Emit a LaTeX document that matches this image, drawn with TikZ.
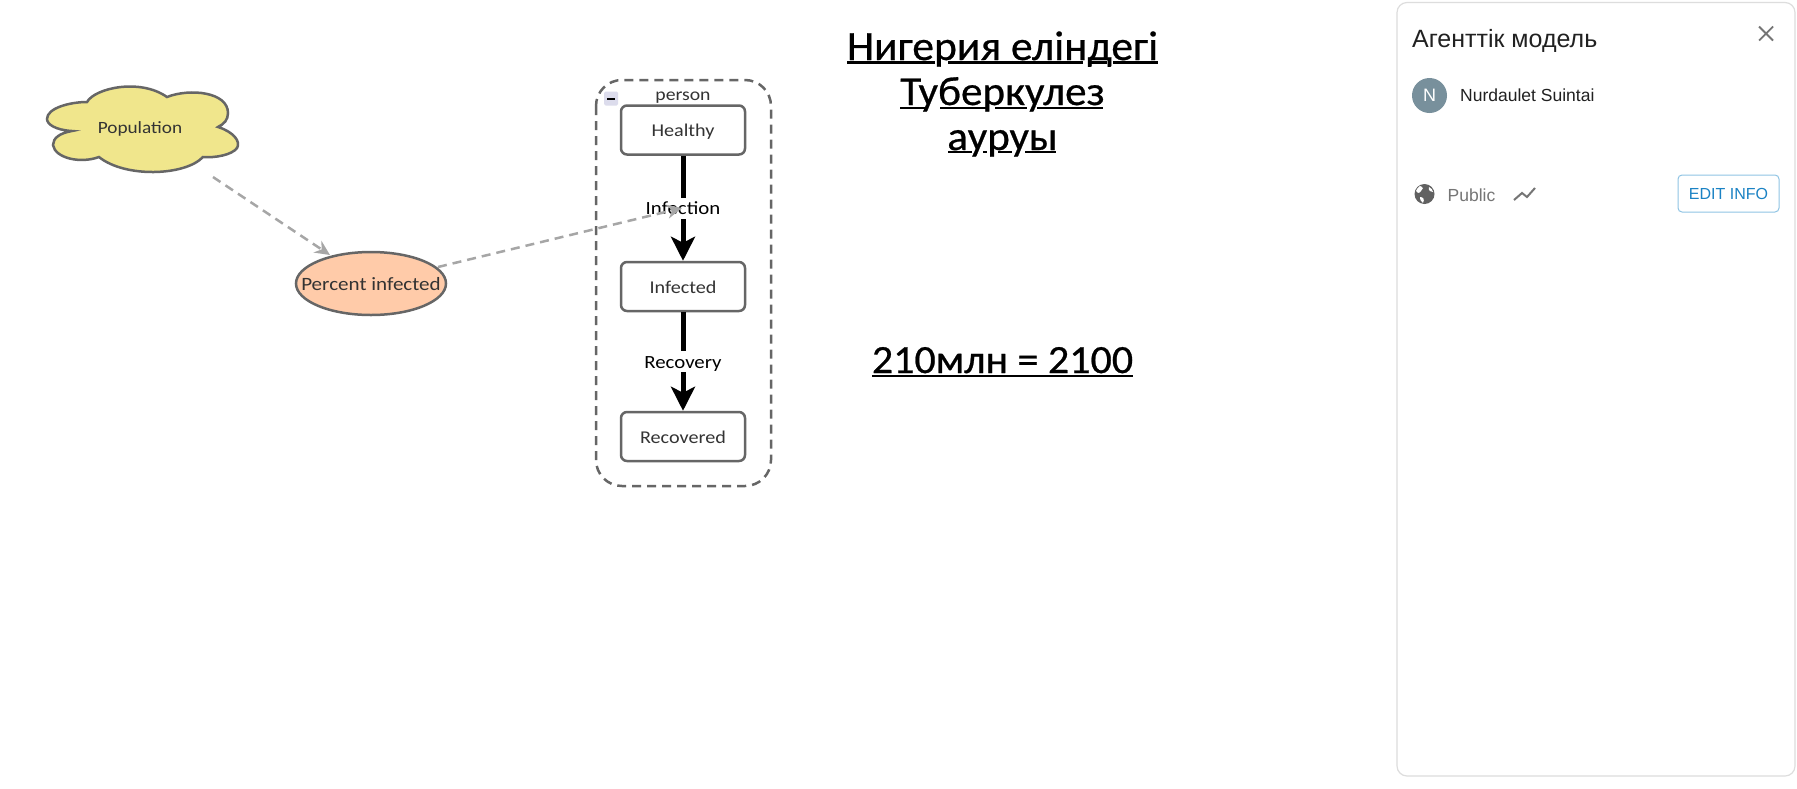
\documentclass[tikz,border=0pt]{standalone}
\usepackage{fontspec}
\usetikzlibrary{arrows.meta,shapes.geometric}
\setmainfont{Liberation Sans}
\newfontfamily\comic[FakeStretch=1.12]{Carlito}
\newfontfamily\comictitle[FakeStretch=1.05,FakeBold=0.6]{Carlito}
\newcommand{\dnshift}[1]{\raisebox{-6.5pt}[0pt][0pt]{#1}}
\definecolor{strokegray}{HTML}{666666}
\definecolor{linkgray}{HTML}{A6A6A6}
\definecolor{cloudfill}{HTML}{F0E68C}
\definecolor{ellfill}{HTML}{FFCBA9}
\definecolor{textdark}{HTML}{333333}
\definecolor{panelline}{HTML}{DDDDDD}
\definecolor{paneltext}{HTML}{212121}
\definecolor{mutedgray}{HTML}{757575}
\definecolor{avatarblue}{HTML}{78909C}
\definecolor{btnline}{HTML}{8FC4E4}
\definecolor{btntext}{HTML}{1A82C4}
\definecolor{minusbg}{HTML}{DCDCEC}
\tikzset{
  flowbox/.style={draw=strokegray,line width=2.5pt,rounded corners=6pt,fill=white,minimum width=124pt,minimum height=49pt,inner sep=0pt,font=\comic\fontsize{18}{20}\selectfont,text=textdark},
  flowlink/.style={black,line width=5pt,-{Stealth[length=24pt,width=24pt,inset=6pt]}},
  flowlabel/.style={fill=white,inner sep=1pt,minimum height=21pt,font=\comic\fontsize{18.6}{20}\selectfont,text=black},
  influence/.style={linkgray,line width=2.5pt,dash pattern=on 9pt off 6pt,-{Stealth[length=15pt,width=14pt,inset=5pt,fill=linkgray]}},
  titletext/.style={anchor=base,inner sep=0pt,text=black},
  uline/.style={black,line width=2.5pt},
  paneltxt/.style={anchor=base west,inner sep=0pt},
}
\begin{document}
\begin{tikzpicture}[x=1pt,y=-1pt]
\useasboundingbox (0,0) rectangle (1797,788);
\fill[white] (0,0) rectangle (1797,788);

% cloud
\draw[draw=strokegray,line width=2.5pt,fill=cloudfill]
  (87,102) .. controls (95,88) and (140,78) .. (167,97)
  .. controls (190,88) and (228,92) .. (228,113)
  .. controls (228,120) and (224,124) .. (218,127)
  .. controls (234,132) and (241,142) .. (237,148)
  .. controls (232,155) and (215,158) .. (203,157)
  .. controls (185,176) and (125,178) .. (99,157)
  .. controls (80,164) and (55,158) .. (53,145)
  .. controls (53,138) and (60,133) .. (72,131)
  .. controls (55,130) and (47,124) .. (47,119)
  .. controls (47,108) and (70,102) .. (87,102) -- cycle;
\node[inner sep=0pt,font=\comic\fontsize{17.2}{20}\selectfont,text=textdark] (pop) at (140,126.5) {\dnshift{Population}};

% ellipse
\node[ellipse,draw=strokegray,line width=2.5pt,fill=ellfill,minimum width=150pt,minimum height=63pt,inner xsep=-24pt,inner ysep=0pt,font=\comic\fontsize{18.8}{20}\selectfont,text=textdark] (pct) at (371,283.5) {\dnshift{Percent infected}};

% group
\draw[draw=strokegray,line width=2.5pt,dash pattern=on 9pt off 6pt,rounded corners=26pt] (596,80) rectangle (771,486);
\node[inner sep=0pt,font=\comic\fontsize{17.6}{20}\selectfont,text=textdark] (grp) at (683,93.5) {\dnshift{person}};
\node[fill=minusbg,rounded corners=1.5pt,minimum width=14pt,minimum height=14pt,inner sep=0pt] (minus) at (611,98.5) {};
\fill[black] (607,97.5) rectangle (615,99.8);

\node[flowbox] (healthy) at (683,130) {\dnshift{Healthy}};
\node[flowbox] (infected) at (683,286.5) {\dnshift{Infected}};
\node[flowbox] (recovered) at (683,436.5) {\dnshift{Recovered}};

\draw[flowlink] (healthy) -- node[flowlabel,pos=0.5] (infl) {\dnshift{Infection}} (infected);
\draw[flowlink] (infected) -- node[flowlabel,pos=0.5] (recl) {\dnshift{Recovery}} (recovered);

\coordinate (popout) at (213,177);
\coordinate (pctin) at (330,255);
\coordinate (pctout) at (438,267);
\coordinate (infin) at (682,208);
\draw[influence] (popout) -- (pctin);
\draw[influence] (pctout) -- (infin);

% title
\node[titletext,font=\comictitle\fontsize{41.5}{45}\selectfont] (t1) at (1002.5,60) {Нигерия еліндегі};
\node[titletext,font=\comictitle\fontsize{41}{45}\selectfont] (t2) at (1002.5,105) {Туберкулез};
\node[titletext,font=\comictitle\fontsize{41}{45}\selectfont] (t3) at (1002.5,150) {ауруы};
\node[titletext,font=\comictitle\fontsize{40}{45}\selectfont] (t4) at (1002.5,373) {210млн = 2100};
\draw[uline] (847,62.5) -- (935,62.5) (948,62.5) -- (1083,62.5) (1090,62.5) -- (1107,62.5) (1113,62.5) -- (1158,62.5);
\draw[uline] (900,108) -- (925,108) (940,108) -- (987,108) (995,108) -- (1027,108) (1037,108) -- (1103,108);
\draw[uline] (948,152) -- (972,152) (983,152) -- (987,152) (998,152) -- (1012,152) (1025,152) -- (1056,152);
\draw[uline] (872,376) -- (1133,376);

% side panel
\draw[panelline,line width=1.2pt,fill=white,rounded corners=10pt] (1397,2.5) rectangle (1795,776);
\node[paneltxt,font=\fontsize{25}{26}\selectfont,text=paneltext] (ptitle) at (1412,47) {Агенттік модель};
\draw[mutedgray,line width=1.8pt] (1759,26.5) -- (1773,40.5) (1773,26.5) -- (1759,40.5);
\node[circle,fill=avatarblue,minimum size=35pt,inner sep=0pt,font=\fontsize{18}{20}\selectfont,text=white] (avatar) at (1429.5,95.5) {N};
\node[paneltxt,font=\fontsize{17.5}{20}\selectfont,text=paneltext] (author) at (1460,101) {Nurdaulet Suintai};
\node[circle,fill=black!62,minimum size=20pt,inner sep=0pt] (globe) at (1424.5,194) {};
\fill[white] (1420,186) .. controls (1424,187) and (1423,190) .. (1421,191) .. controls (1419,194) and (1417,193) .. (1416,191) .. controls (1417,189) and (1418,187) .. (1420,186) -- cycle;
\fill[white] (1420,197) .. controls (1423,197) and (1425,199) .. (1423,203) .. controls (1421,201) and (1419,199) .. (1420,197) -- cycle;
\fill[white] (1429,187) .. controls (1431,188) and (1433,190) .. (1433,192) .. controls (1431,192) and (1428,191) .. (1429,187) -- cycle;
\node[paneltxt,font=\fontsize{17.5}{20}\selectfont,text=mutedgray] (pub) at (1447.5,201) {Public};
\draw[mutedgray,line width=2pt] (1514,200) -- (1522,193) -- (1527,197) -- (1535,188);
\node[draw=btnline,line width=1pt,rounded corners=4pt,minimum width=101pt,minimum height=37pt,inner sep=0pt,font=\fontsize{16}{20}\selectfont,text=btntext] (edit) at (1728.5,193.5) {EDIT INFO};
\end{tikzpicture}
\end{document}
